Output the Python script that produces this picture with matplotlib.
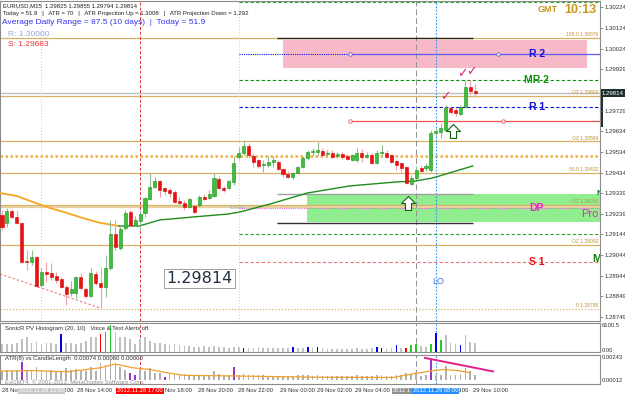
import matplotlib
matplotlib.use("Agg")
import matplotlib.pyplot as plt
import numpy as np
from matplotlib.path import Path
from matplotlib.patches import Rectangle
import matplotlib.transforms as mtransforms

# ---------------- data (EURUSD M15, bar 0 = 28 Nov 10:00) ----------------
opens = [1.29234, 1.29196, 1.29253, 1.29224, 1.29196, 1.29015, 1.29010, 1.29034, 1.28900, 1.28962,
         1.28958, 1.28943, 1.28929, 1.28891, 1.28862, 1.28862, 1.28939, 1.28881, 1.28848, 1.28953,
         1.28910, 1.28891, 1.28981, 1.29143, 1.29077, 1.29172, 1.29248, 1.29186, 1.29205, 1.29243,
         1.29310, 1.29367, 1.29395, 1.29362, 1.29353, 1.29343, 1.29300, 1.29291, 1.29272, 1.29276,
         1.29281, 1.29319, 1.29314, 1.29324, 1.29405, 1.29362, 1.29362, 1.29391, 1.29510, 1.29529,
         1.29562, 1.29514, 1.29495, 1.29472, 1.29472, 1.29486, 1.29486, 1.29453, 1.29429, 1.29414,
         1.29434, 1.29462, 1.29505, 1.29533, 1.29533, 1.29538, 1.29524, 1.29529, 1.29514, 1.29524,
         1.29514, 1.29495, 1.29495, 1.29529, 1.29510, 1.29519, 1.29481, 1.29529, 1.29529, 1.29519,
         1.29491, 1.29481, 1.29462, 1.29381, 1.29410, 1.29457, 1.29457, 1.29448, 1.29624, 1.29629,
         1.29638, 1.29743, 1.29733, 1.29714, 1.29748, 1.29843, 1.29825]
highs = [1.29257, 1.29267, 1.29262, 1.29257, 1.29200, 1.29067, 1.29067, 1.29038, 1.28981, 1.29010,
         1.29005, 1.28962, 1.28939, 1.28900, 1.28919, 1.28943, 1.28958, 1.28891, 1.28981, 1.28967,
         1.28986, 1.29043, 1.29210, 1.29210, 1.29186, 1.29257, 1.29257, 1.29229, 1.29257, 1.29319,
         1.29434, 1.29414, 1.29400, 1.29367, 1.29362, 1.29353, 1.29319, 1.29305, 1.29314, 1.29281,
         1.29329, 1.29334, 1.29353, 1.29434, 1.29419, 1.29372, 1.29400, 1.29514, 1.29557, 1.29591,
         1.29576, 1.29529, 1.29500, 1.29495, 1.29514, 1.29514, 1.29495, 1.29457, 1.29443, 1.29438,
         1.29467, 1.29514, 1.29543, 1.29552, 1.29581, 1.29552, 1.29543, 1.29543, 1.29533, 1.29533,
         1.29524, 1.29524, 1.29552, 1.29548, 1.29533, 1.29529, 1.29543, 1.29567, 1.29543, 1.29524,
         1.29495, 1.29486, 1.29467, 1.29424, 1.29467, 1.29472, 1.29481, 1.29638, 1.29648, 1.29672,
         1.29757, 1.29748, 1.29743, 1.29757, 1.29876, 1.29876, 1.29855]
lows = [1.29162, 1.29176, 1.29219, 1.29191, 1.29005, 1.28972, 1.28996, 1.28891, 1.28891, 1.28914,
        1.28924, 1.28910, 1.28886, 1.28805, 1.28848, 1.28838, 1.28876, 1.28838, 1.28843, 1.28900,
        1.28791, 1.28843, 1.28972, 1.29067, 1.29067, 1.29162, 1.29176, 1.29181, 1.29162, 1.29224,
        1.29305, 1.29362, 1.29319, 1.29329, 1.29319, 1.29291, 1.29281, 1.29257, 1.29267, 1.29243,
        1.29272, 1.29305, 1.29310, 1.29319, 1.29353, 1.29343, 1.29357, 1.29376, 1.29500, 1.29519,
        1.29505, 1.29462, 1.29457, 1.29438, 1.29462, 1.29462, 1.29448, 1.29414, 1.29410, 1.29405,
        1.29429, 1.29457, 1.29495, 1.29514, 1.29514, 1.29510, 1.29514, 1.29505, 1.29505, 1.29500,
        1.29495, 1.29491, 1.29486, 1.29486, 1.29505, 1.29476, 1.29476, 1.29510, 1.29505, 1.29481,
        1.29448, 1.29438, 1.29381, 1.29376, 1.29405, 1.29434, 1.29443, 1.29438, 1.29610, 1.29600,
        1.29633, 1.29714, 1.29705, 1.29710, 1.29743, 1.29810, 1.29794]
closes = [1.29176, 1.29253, 1.29224, 1.29196, 1.29010, 1.29010, 1.29034, 1.28896, 1.28962, 1.28953,
          1.28939, 1.28924, 1.28891, 1.28857, 1.28881, 1.28939, 1.28886, 1.28848, 1.28958, 1.28910,
          1.28891, 1.28981, 1.29143, 1.29081, 1.29167, 1.29243, 1.29186, 1.29210, 1.29238, 1.29314,
          1.29367, 1.29395, 1.29353, 1.29348, 1.29338, 1.29295, 1.29291, 1.29272, 1.29310, 1.29248,
          1.29319, 1.29310, 1.29334, 1.29410, 1.29362, 1.29353, 1.29395, 1.29481, 1.29529, 1.29562,
          1.29519, 1.29486, 1.29467, 1.29476, 1.29486, 1.29495, 1.29453, 1.29429, 1.29414, 1.29434,
          1.29462, 1.29505, 1.29533, 1.29538, 1.29543, 1.29519, 1.29529, 1.29510, 1.29524, 1.29510,
          1.29500, 1.29519, 1.29529, 1.29510, 1.29519, 1.29481, 1.29529, 1.29533, 1.29510, 1.29486,
          1.29472, 1.29457, 1.29386, 1.29410, 1.29448, 1.29443, 1.29467, 1.29624, 1.29633, 1.29648,
          1.29743, 1.29724, 1.29719, 1.29748, 1.29843, 1.29825, 1.29814]

# moving averages (bar index, price) vertices
ma_orange_x = [-0.4, 3.0, 6.3, 9.7, 13.2, 16.4, 19.9, 23.7]
ma_orange_y = [1.29338, 1.29324, 1.29295, 1.29267, 1.29243, 1.29219, 1.29196, 1.29181]
ma_green_x = [23.7, 27.8, 32.0, 38.7, 45.8, 48.3, 54.4, 61.9, 70.6, 80.1, 83.8, 87.4, 95.5]
ma_green_y = [1.29181, 1.29181, 1.29210, 1.29224, 1.29238, 1.29248, 1.29286, 1.29338, 1.29372,
              1.29391, 1.29395, 1.29410, 1.29467]

# fibonacci / zone levels
fib_levels = [1.30076, 1.29800, 1.29584, 1.29432, 1.29280, 1.29092, 1.28788]
fib_names = ["100.0", "OZ", "OZ", "50.0", "OZ", "OZ", "0"]
pivot_levels = [1.30000, 1.29876, 1.29748, 1.29267, 1.29010]
pivot_names = ["R 2", "MR 2", "R 1", "DP", "S 1"]
pivot_colors = ["#1010e0", "#109010", "#1010e0", "#f020d0", "#ee1010"]
mid_levels = [1.30247, 1.29143]
res_price, sup_price = 1.30000, 1.29683
bid = 1.29814

# SonicR PV histogram
volumes = [1880, 1880, 1880, 2115, 3055, 3290, 2115, 2350, 1880, 2115,
           2115, 1880, 3995, 2115, 2115, 1880, 2115, 2585, 3290, 3290,
           3995, 4465, 6110, 4465, 3290, 3290, 3055, 1880, 3055, 3290,
           2585, 2115, 2115, 1880, 1645, 1880, 1645, 1410, 1410, 1175,
           1175, 1410, 1175, 1410, 1175, 1175, 940, 1175, 1175, 940,
           940, 940, 1175, 940, 940, 940, 940, 940, 940, 1175,
           940, 940, 1175, 940, 1175, 940, 705, 705, 705, 705,
           705, 705, 940, 705, 705, 940, 1175, 940, 705, 940,
           1645, 940, 940, 1645, 1880, 1410, 1175, 1880, 4230, 2820,
           3760, 2115, 1880, 1645, 3760, 2350, 2115]
vol_signal = ("nnnnnnnnnnnnbnnnnnnn" "rggnnnnnnnnnnnnnnnnn" "nnnnnnnnnbnnnnnnnnnb"
              "nnbnbnnnnnnnnnnnbbnn" "bnrggnngbgnnnbnnn")

# ATR(8) vs candle length
candle_len = [0.0009, 0.0011, 0.0009, 0.0011, 0.0019, 0.0011, 0.0009, 0.0014, 0.0011, 0.0009,
              0.0011, 0.0009, 0.0009, 0.0013, 0.0011, 0.0012, 0.0009, 0.0009, 0.0014, 0.0009,
              0.0018, 0.0016, 0.0021, 0.0018, 0.0014, 0.0011, 0.0007, 0.0005, 0.0011, 0.0009,
              0.0013, 0.0007, 0.0007, 0.0003, 0.0006, 0.0006, 0.0005, 0.0006, 0.0005, 0.0005,
              0.0005, 0.0005, 0.0005, 0.0009, 0.0006, 0.0005, 0.0005, 0.0014, 0.0005, 0.0006,
              0.0005, 0.0005, 0.0005, 0.0005, 0.0004, 0.0004, 0.0004, 0.0004, 0.0004, 0.0004,
              0.0005, 0.0005, 0.0005, 0.0004, 0.0005, 0.0004, 0.0004, 0.0004, 0.0004, 0.0004,
              0.0004, 0.0004, 0.0005, 0.0004, 0.0004, 0.0004, 0.0005, 0.0005, 0.0004, 0.0004,
              0.0005, 0.0005, 0.0007, 0.0006, 0.0008, 0.0004, 0.0005, 0.0021, 0.0005, 0.0005,
              0.0015, 0.0005, 0.0005, 0.0006, 0.0013, 0.0009, 0.0005]
big_bars = [4, 26, 27, 33, 47, 87]
atr_x = [-0.4, 6.3, 13.2, 19.9, 22.9, 26.6, 30.0, 33.4, 36.8, 47.0, 64.0, 79.3, 82.0, 86.8, 89.5, 92.3, 95.0]
atr_y = [0.00093, 0.00099, 0.00086, 0.00127, 0.00167, 0.00127, 0.00110, 0.00077, 0.00050, 0.00043,
         0.00030, 0.00027, 0.00053, 0.00093, 0.00110, 0.00100, 0.00077]
div_x = [85.8, 99.6]
div_y = [0.00230, 0.00090]

right_ticks = [1.30224, 1.30124, 1.30024, 1.29929, 1.29729, 1.29634, 1.29534, 1.29434,
               1.29339, 1.29239, 1.29144, 1.29044, 1.28944, 1.28849, 1.28749]
# visible parts of the time scale (some are hidden behind the crosshair boxes)
time_labels = ["28 No", "2:00", "28 Nov 14:00", "Nov 18:00", "28 Nov 20:00", "28 Nov 22:00",
               "29 Nov 00:00", "29 Nov 02:00", "29 Nov 04:00", "3:00", "29 Nov 10:00"]
time_bars = [0, 12.4, 15.2, 33.1, 39.8, 47.9, 56.4, 63.9, 71.6, 92.5, 95.5]

# ---------------- figure ----------------
W, H = 625, 398
fig = plt.figure(figsize=(W / 100, H / 100), dpi=100)
fig.patch.set_facecolor("white")
plt.rcParams["font.family"] = ["Liberation Sans", "DejaVu Sans"]

def fx(px):
    return px / W

def fy(py):
    return 1 - py / H

ax = fig.add_axes([0, fy(321), fx(600), 320 / H])
ax1 = fig.add_axes([0, fy(352), fx(600), 29 / H])
ax2 = fig.add_axes([0, fy(384), fx(600), 29 / H])
XL = (-0.41, 121.3)
for a in (ax, ax1, ax2):
    a.set_xlim(*XL)
    a.set_xticks([])
    for s in a.spines.values():
        s.set_color("#8c8c8c")
        s.set_linewidth(0.8)
ax.set_ylim(1.28729, 1.30252)
ax1.set_ylim(0, 6570)
ax2.set_ylim(-0.0004, 0.0026)

GOLD = "#d8b060"
idx = np.arange(len(opens))
o, h, l, c = map(np.array, (opens, highs, lows, closes))

# zones
ax.add_patch(Rectangle((57.0, 1.29933), 118.7 - 57.0, 1.30067 - 1.29933,
                       facecolor="#f7b8c8", edgecolor="none", zorder=1))
ax.add_patch(Rectangle((61.9, 1.29200), XL[1] - 61.9, 1.29334 - 1.29200,
                       facecolor="#90ee90", edgecolor="none", zorder=1))

# fib / OZ lines across the chart
for lev, name in zip(fib_levels, fib_names):
    ls = (0, (1, 1.5)) if name == "0" else "-"
    ax.axhline(lev, color=GOLD, lw=0.9, ls=ls, zorder=2)
    ax.text(120.9, lev + 0.00004, f"{name} {lev:.5f}", color="#c09030", fontsize=3.6,
            ha="right", va="bottom", zorder=6)
ax.axhline(1.29514, color="#f0b040", lw=1.8, ls=(0, (1, 1)), zorder=2)
ax.axhline(1.29272, color="#e8d0a0", lw=1.6, zorder=2)
ax.axhline(bid, color="#c0c0c0", lw=1.0, zorder=2)

# pivots from today's start
for lev, name, col in zip(pivot_levels, pivot_names, pivot_colors):
    ls = (0, (1, 1)) if name in ("R 2", "DP") else (0, (3, 2))
    lc = "#e070d0" if name == "DP" else ("#f07080" if name == "S 1" else col)
    ax.hlines(lev, 48, XL[1], color=lc, lw=0.8, ls=ls, zorder=3)
    ax.text(108.5, lev, name, color=col, fontsize=7.5, fontweight="bold",
            ha="center", va="center", zorder=7)
for lev in mid_levels:
    ax.hlines(lev, 48, XL[1], color="#30a030", lw=0.8, ls=(0, (3, 2)), zorder=3)

# previous-day high/low lines
ax.hlines(1.30076, 55.8, 95.5, color="#302010", lw=1.0, zorder=3)
ax.hlines(1.29334, 55.8, 95.5, color="#a0a0a0", lw=1.0, zorder=3)
ax.hlines(1.29196, 55.8, 95.5, color="#303030", lw=1.0, zorder=3)

# support / resistance rays
ax.hlines(res_price, 70.6, XL[1], color="#6060f0", lw=0.9, zorder=3)
ax.plot([70.6, 100.6], [res_price, res_price], "o", ms=2.5, mfc="white", mec="#6060f0", mew=0.6, zorder=4)
ax.hlines(sup_price, 70.6, XL[1], color="#f05050", lw=0.9, zorder=3)
ax.plot([70.6, 101.6], [sup_price, sup_price], "o", ms=2.5, mfc="white", mec="#f05050", mew=0.6, zorder=4)

# red dotted trendline
ax.plot([-0.4, 19.9], [1.28953, 1.28791], color="#f07070", lw=0.8, ls=(0, (2, 2)), zorder=3)

# vertical lines
for a in (ax, ax1, ax2):
    a.axvline(28, color="#e03030", lw=0.7, ls=(0, (3, 2)), zorder=2)
    a.axvline(84, color="#909090", lw=0.7, ls=(0, (6, 3)), zorder=2)
    a.axvline(88, color="#3090f0", lw=0.8, ls=(0, (1.5, 1.5)), zorder=2)
ax.axvline(8, color="#c8c8c8", lw=0.7, ls=(0, (1, 2)), zorder=2)
ax.axvline(48, color="#c8c8c8", lw=0.7, ls=(0, (1, 2)), zorder=2)

# moving averages
ax.plot(ma_orange_x, ma_orange_y, color="#f5a623", lw=1.3, zorder=4)
ax.plot(ma_green_x, ma_green_y, color="#1e8c1e", lw=1.0, zorder=4)

# candles
up = c >= o
ax.vlines(idx[up], l[up], h[up], color="#90c090", lw=0.8, zorder=5)
ax.vlines(idx[~up], l[~up], h[~up], color="#f0a0a8", lw=0.8, zorder=5)
body = np.maximum(np.abs(c - o), 0.00003)
bot = np.minimum(o, c)
ax.bar(idx[up], body[up], bottom=bot[up], width=0.62, color="#3cbf3c",
       edgecolor="#1f8f1f", lw=0.4, zorder=6)
ax.bar(idx[~up], body[~up], bottom=bot[~up], width=0.62, color="#ee1111",
       edgecolor="#d00000", lw=0.4, zorder=6)

# hollow up arrows
arrow = Path([(-0.22, -0.5), (0.22, -0.5), (0.22, 0.0), (0.5, 0.0), (0, 0.5),
              (-0.5, 0.0), (-0.22, 0.0), (-0.22, -0.5)], closed=True)
ax.plot([82.4, 91.5], [1.29291, 1.29633], ls="none", marker=arrow, ms=10,
        mfc="white", mec="#106010", mew=0.8, zorder=8)
# checkmarks
for xb, yp in zip([89.9, 93.3, 95.3], [1.29795, 1.29905, 1.29914]):
    ax.text(xb, yp, "\u2713", color="#e0207f", fontsize=9, ha="center", va="center",
            family="DejaVu Sans", zorder=8)

# chart texts
ax.text(46, 1.29262, "Today", color="#9ab0c8", fontsize=4.5, zorder=7)
ax.text(87.2, 1.28905, "LO", color="#3a7bd5", fontsize=6.5, zorder=7)
ax.text(117.5, 1.29224, "Pro", color="#e030b0", fontsize=8, zorder=7, clip_on=True)
ax.text(119.8, 1.29010, "M", color="#108010", fontsize=8, fontweight="bold", zorder=7, clip_on=True)
ax.text(120.5, 1.29330, "N", color="#108010", fontsize=6, fontweight="bold", zorder=7, clip_on=True)
ax.text(33.3, 1.28933, "1.29814", color="#203040", fontsize=11.5, va="center", zorder=7,
        family="DejaVu Sans",
        bbox=dict(facecolor="white", edgecolor="#909090", lw=0.6, pad=1.5))

# right price axis
ax.yaxis.tick_right()
ax.set_yticks(right_ticks)
ax.set_yticklabels([f"{v:.5f}" for v in right_ticks])
ax.tick_params(axis="y", direction="out", length=2, width=0.5, color="#606060",
               labelsize=4.3, pad=1, labelcolor="#303030")
ax.text(1.003, (bid - 1.28729) / (1.30252 - 1.28729), f"{bid:.5f}", transform=ax.transAxes,
        color="white", fontsize=4.3, va="center", ha="left",
        bbox=dict(facecolor="#203030", edgecolor="none", pad=0.8), clip_on=False)
ax.add_patch(Rectangle((1.001, 0.605), 0.004, 0.12, transform=ax.transAxes,
                       facecolor="#203030", edgecolor="none", clip_on=False))

# ---------- SonicR panel ----------
vcols = {"n": "#c0c0c0", "b": "#0000ee", "r": "#ff0000", "g": "#22cc22"}
ax1.bar(idx, volumes, width=0.35, color=[vcols[s] for s in vol_signal], zorder=3)
ax1.set_yticks([])
ax1.text(0.6, 5300, "SonicR PV Histogram (20, 10)   Voice & Text Alerts off.", fontsize=4.3,
         color="#303030", va="center")
ax1.text(1.003, 0.93, "6100.5", transform=ax1.transAxes, fontsize=4.2, color="#303030",
         va="center", clip_on=False)
ax1.text(1.003, 0.05, "0.00", transform=ax1.transAxes, fontsize=4.2, color="#303030",
         va="center", clip_on=False)

# ---------- ATR panel ----------
lcols = ["#9933cc" if i in big_bars else "#b0b0b0" for i in idx]
ax2.bar(idx, candle_len, width=0.35, color=lcols, zorder=3)
ax2.plot(atr_x, atr_y, color="#f0a030", lw=0.9, zorder=4)
ax2.plot(div_x, div_y, color="#e0208a", lw=1.4, zorder=5)
ax2.set_yticks([])
ax2.text(0.6, 0.0022, "ATR(8) vs CandleLength  0.00074 0.00060 0.00000", fontsize=4.3,
         color="#303030", va="center")
ax2.text(0.6, -0.0002, "ExGMT4, \u00a9 2001-2012, MetaQuotes Software Corp.", fontsize=4.3,
         color="#707070", va="center", alpha=0.8)
ax2.text(1.003, 0.9, "0.00243", transform=ax2.transAxes, fontsize=4.2, color="#303030",
         va="center", clip_on=False)
ax2.text(1.003, 0.12, "0.00012", transform=ax2.transAxes, fontsize=4.2, color="#303030",
         va="center", clip_on=False)

# ---------- time axis ----------
tb = mtransforms.blended_transform_factory(ax2.transData, fig.transFigure)
for xb, t in zip(time_bars, time_labels):
    ax2.text(xb, fy(391), t, transform=tb, fontsize=4.2, color="#303030",
             va="center", ha="left", clip_on=False)
for xb, t, fc, ha in [(8, "2012.11.28 12:00", "#c8c8c8", "center"),
                      (28, "2012.11.28 17:00", "#ff0000", "center"),
                      (83.0, "2012.1", "#909090", "right"),
                      (88, "2012.11.29 08:00", "#1e90ff", "center")]:
    ax2.text(xb, fy(391), t, transform=tb, fontsize=4.2, color="white", va="center",
             ha=ha, clip_on=False,
             bbox=dict(facecolor=fc, edgecolor="none", pad=0.6))

# ---------- header texts ----------
fig.text(fx(3), fy(6), "EURUSD,M15  1.29825 1.29855 1.29794 1.29814", fontsize=4.3,
         color="#202020", va="center")
fig.text(fx(3), fy(13), "Today = 51.9   |   ATR = 70   |   ATR Projection Up = 1.3008   |   "
         "ATR Projection Down = 1.292", fontsize=4.3, color="#202020", va="center")
fig.text(fx(2), fy(23), "Average Daily Range = 87.5 (10 days)  |  Today = 51.9", fontsize=6,
         color="#3333ee", va="center")
fig.text(fx(8), fy(34), "R: 1.30000", fontsize=6, color="#90a8d8", va="center")
fig.text(fx(8), fy(44), "S: 1.29683", fontsize=6, color="#ee3333", va="center")
fig.text(fx(538), fy(10), "GMT", fontsize=6.5, fontweight="bold", color="#c8961e", va="center")
fig.text(fx(564), fy(10), "10:13", fontsize=9, fontweight="bold", color="#c8961e", va="center")

fig.savefig("out.png", dpi=100, facecolor="white")
